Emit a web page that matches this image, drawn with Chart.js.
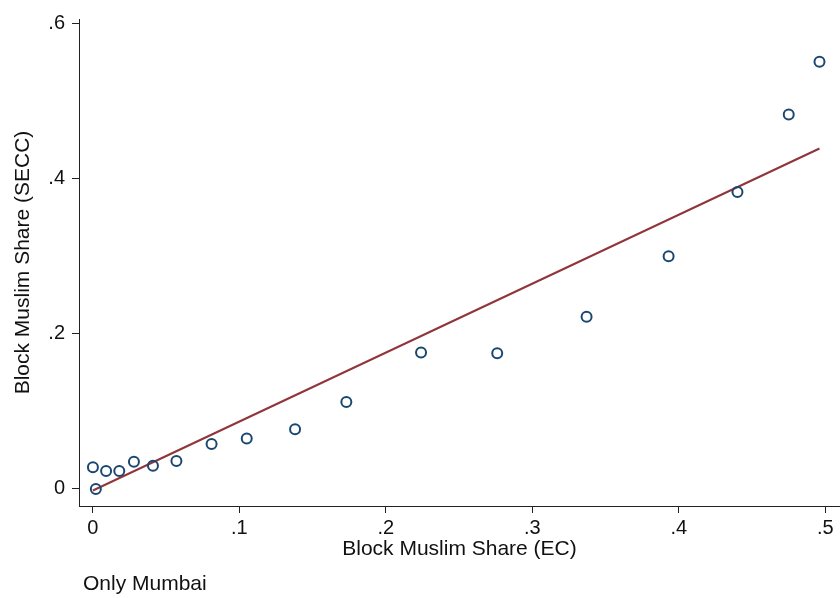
<!DOCTYPE html>
<html>
<head>
<meta charset="utf-8">
<title>Block Muslim Share</title>
<script src="https://cdn.jsdelivr.net/npm/chart.js@4/dist/chart.umd.min.js"></script>
<style>
  html, body { margin: 0; padding: 0; background: #fff; overflow: hidden; }
  #wrap { width: 840px; height: 598px; position: relative; }
  #chart { display: block; }
</style>
</head>
<body>
<div id="wrap"><canvas id="chart"></canvas></div>
<script>
// ── data ──
const ecShare   = [0.000, 0.002, 0.009, 0.018, 0.028, 0.041, 0.057, 0.081, 0.105, 0.138,
                   0.173, 0.224, 0.276, 0.337, 0.393, 0.440, 0.475, 0.496];
const seccShare = [0.028, 0.000, 0.023, 0.023, 0.035, 0.030, 0.036, 0.058, 0.065, 0.077,
                   0.112, 0.176, 0.175, 0.222, 0.300, 0.383, 0.483, 0.551];

// fitted line, end points
const fitX = [0.000, 0.496];
const fitY = [-0.002, 0.439];

const xTicks = [0, 0.1, 0.2, 0.3, 0.4, 0.5];
const xTickLabels = ['0', '.1', '.2', '.3', '.4', '.5'];
const yTicks = [0, 0.2, 0.4, 0.6];
const yTickLabels = ['0', '.2', '.4', '.6'];

const xTitle = 'Block Muslim Share (EC)';
const yTitle = 'Block Muslim Share (SECC)';
const note = 'Only Mumbai';

const FONT = '"Liberation Sans", Arial, Helvetica, sans-serif';
const AXIS = '#222';

// note under the plot, Stata style
const notePlugin = {
  id: 'note',
  afterDraw(chart) {
    const ctx = chart.ctx;
    ctx.save();
    ctx.font = `21px ${FONT}`;
    ctx.fillStyle = '#111';
    ctx.textBaseline = 'alphabetic';
    ctx.textAlign = 'left';
    ctx.fillText(note, 83, 590);
    ctx.restore();
  },
};

new Chart(document.getElementById('chart'), {
  type: 'scatter',
  data: {
    datasets: [
      {
        label: 'binned',
        data: ecShare.map((x, i) => ({ x, y: seccShare[i] })),
        pointStyle: 'circle',
        pointRadius: 5,
        pointBorderWidth: 2,
        pointBorderColor: '#1a476f',
        pointBackgroundColor: 'rgba(0,0,0,0)',
        order: 1,
      },
      {
        type: 'line',
        label: 'fit',
        data: fitX.map((x, i) => ({ x, y: fitY[i] })),
        borderColor: '#90353b',
        borderWidth: 2,
        pointRadius: 0,
        fill: false,
        order: 2,
      },
    ],
  },
  options: {
    responsive: true,
    maintainAspectRatio: false,
    animation: false,
    layout: { autoPadding: false, padding: { top: 18, left: 0, right: 0, bottom: 0 } },
    scales: {
      x: {
        type: 'linear',
        min: -0.0095,
        max: 0.51,
        afterBuildTicks: (axis) => { axis.ticks = xTicks.map((v) => ({ value: v })); },
        afterFit: (scale) => { scale.height = 92; },
        ticks: {
          callback: (v, i) => xTickLabels[i],
          color: '#111',
          font: { family: FONT, size: 20 },
          padding: 3,
          maxRotation: 0,
        },
        grid: { drawOnChartArea: false, drawTicks: true, tickLength: 7, tickColor: AXIS, lineWidth: 1 },
        border: { display: true, color: AXIS, width: 1 },
        title: {
          display: true,
          text: xTitle,
          color: '#111',
          font: { family: FONT, size: 21 },
          padding: { top: 0, bottom: 36 },
        },
      },
      y: {
        type: 'linear',
        min: -0.022,
        max: 0.606,
        afterBuildTicks: (axis) => { axis.ticks = yTicks.map((v) => ({ value: v })); },
        afterFit: (scale) => { scale.width = 79; },
        ticks: {
          callback: (v, i) => yTickLabels[i],
          color: '#111',
          font: { family: FONT, size: 20 },
          padding: 7,
        },
        grid: { drawOnChartArea: false, drawTicks: true, tickLength: 7, tickColor: AXIS, lineWidth: 1 },
        border: { display: true, color: AXIS, width: 1 },
        title: {
          display: true,
          text: yTitle,
          color: '#111',
          font: { family: FONT, size: 21 },
          padding: { top: 11, bottom: 0 },
        },
      },
    },
    plugins: {
      legend: { display: false },
      tooltip: { enabled: false },
    },
  },
  plugins: [notePlugin],
});
</script>
</body>
</html>
